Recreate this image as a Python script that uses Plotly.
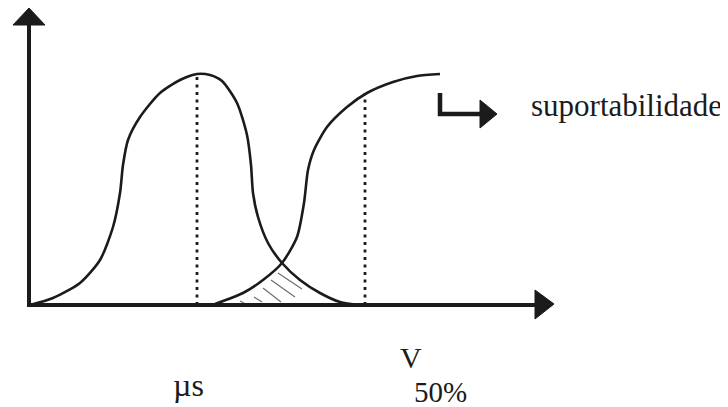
import plotly.graph_objects as go

# ---- data (x in px, h = height above the horizontal axis in px) ----
# bell-shaped distribution (solicitation)
bell_x = [30, 53, 80, 100, 113, 120, 123, 128, 140, 160, 180, 197, 210, 222, 237, 247, 251, 253, 258, 268, 282, 300, 320, 340, 360]
bell_h = [0, 7, 22, 45, 78, 112, 140, 165, 188, 212, 225, 231, 230, 224, 202, 170, 140, 112, 88, 62, 42, 25, 12, 3, 0]

# S-shaped cumulative curve (suportabilidade)
sig_x = [215, 243, 263, 282, 297, 304, 308, 314, 327, 347, 367, 393, 417, 440]
sig_h = [1, 12, 25, 42, 68, 102, 135, 155, 178, 198, 212, 223, 229, 231]

# dotted verticals: mean of bell and V50% on the S-curve
vline_x = [197, 365]
vline_top = [231, 212]

# hatch strokes in the overlap region
hatch_x0 = [278, 271, 263, 254, 240]
hatch_h0 = [32, 25, 17, 8, 4]
hatch_x1 = [302, 295, 281, 262, 244]
hatch_h1 = [16, 8, 3, 3, 2]

# axes (shafts + arrow heads)
yaxis_x = [29, 29]
yaxis_h = [0, 282]
yhead_x = [13, 29, 45, 13]
yhead_h = [280, 297, 280, 280]
xaxis_x = [27, 537]
xaxis_h = [0, 0]
xhead_x = [535, 554, 535, 535]
xhead_h = [15, 1, -14, 15]

# L-shaped legend arrow
larrow_x = [440, 440, 482]
larrow_h = [212, 191, 191]
lhead_x = [480, 497, 480, 480]
lhead_h = [205, 191, 177, 205]

labels = ["suportabilidade", "V", "50%", "µs"]
label_x = [529, 398, 412, 171]
label_h = [200, -52, -87, -80]
label_size = [31, 30, 29, 32]

INK = "#1b1b1b"

fig = go.Figure()


def line(x, y, width, color=INK, dash=None, shape="linear", smoothing=1.0):
    fig.add_trace(go.Scatter(x=x, y=y, mode="lines",
                             line=dict(color=color, width=width, dash=dash,
                                       shape=shape, smoothing=smoothing),
                             hoverinfo="skip", showlegend=False))


def tri(x, y):
    fig.add_trace(go.Scatter(x=x, y=y, mode="lines", fill="toself",
                             fillcolor=INK, line=dict(color=INK, width=1),
                             hoverinfo="skip", showlegend=False))


# hatching
for a, b, c, d in zip(hatch_x0, hatch_h0, hatch_x1, hatch_h1):
    line([a, c], [b, d], 1.2, color="#6e6e6e")

# dotted verticals
for vx, vt in zip(vline_x, vline_top):
    line([vx, vx], [0, vt], 2.8, dash="3px,4.5px")

# curves
line(bell_x, bell_h, 2.6, shape="spline", smoothing=0.7)
line(sig_x, sig_h, 2.6, shape="spline", smoothing=0.7)

# axes
line(yaxis_x, yaxis_h, 4)
tri(yhead_x, yhead_h)
line(xaxis_x, xaxis_h, 4)
tri(xhead_x, xhead_h)

# L arrow
line(larrow_x, larrow_h, 4.5)
tri(lhead_x, lhead_h)

for t, x, h, s in zip(labels, label_x, label_h, label_size):
    fig.add_annotation(x=x, y=h, text=t, showarrow=False, xanchor="left", yanchor="middle",
                       font=dict(family="Liberation Serif", size=s, color=INK))

# the page body adds an 8px offset, so the ranges start 8px in
fig.update_layout(
    width=728, height=407,
    margin=dict(l=0, r=0, t=0, b=0),
    paper_bgcolor="white", plot_bgcolor="white",
    xaxis=dict(range=[8, 736], visible=False, fixedrange=True),
    yaxis=dict(range=[-110, 297], visible=False, fixedrange=True),
    showlegend=False,
)

fig.write_html("out.html")
